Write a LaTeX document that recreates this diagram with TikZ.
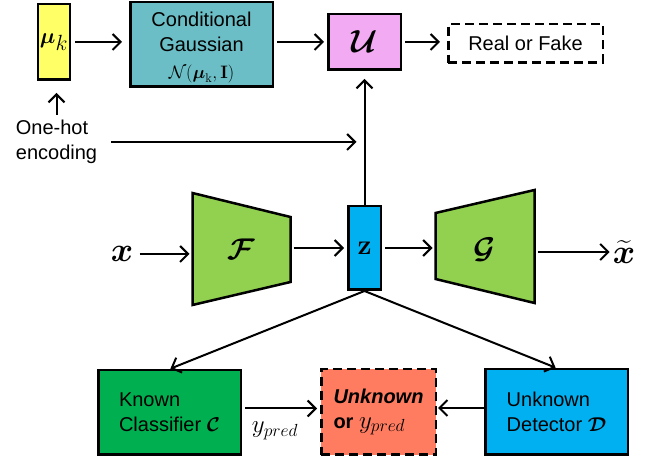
\RequirePackage{fix-cm}
\documentclass[tikz,border=0pt]{standalone}
\usepackage{amsmath}
\usepackage[no-math]{fontspec}
\setmainfont{Liberation Sans}
\usetikzlibrary{arrows.meta,calc}

\definecolor{meanyellow}{RGB}{255,255,102}
\definecolor{gaussteal}{RGB}{107,190,197}
\definecolor{discpink}{RGB}{242,170,242}
\definecolor{encgreen}{RGB}{146,208,80}
\definecolor{latentblue}{RGB}{0,176,240}
\definecolor{clsgreen}{RGB}{0,176,80}
\definecolor{unksalmon}{RGB}{255,124,96}

\newcommand{\sz}[1]{\fontsize{#1}{#1}\selectfont}
\newcommand{\ypred}{{\sz{25}$y_{pred}$}}

\tikzset{
  blk/.style={draw, line width=2.5pt, inner sep=2pt, align=center},
  dashblk/.style={blk, dash pattern=on 9pt off 5pt},
  trap/.style={draw, line width=2.5pt, line join=miter},
  arr/.style={-{Straight Barb[length=8pt,width=16pt]}, line width=2pt, shorten <=3pt, shorten >=3pt},
}

\begin{document}
\begin{tikzpicture}[x=1pt, y=-1pt, font=\fontsize{20}{25}\selectfont]
          \useasboundingbox (0,0) rectangle (657,457);

          \node[blk, fill=meanyellow, minimum width=31.5pt, minimum height=75.5pt, font=\sz{22}] (mu) at (54,42) {$\boldsymbol{\mu}_{\textstyle k}$};
          \node[blk, fill=gaussteal, minimum width=142.5pt, minimum height=84.5pt] (gauss) at (201.5,44.5)
            {\rule{0pt}{21pt}Conditional\\Gaussian\\[2pt]{\sz{18}$\mathcal{N}(\boldsymbol{\mu}_{\mathrm{k}},\mathbf{I})$}};
          \node[blk, fill=discpink, minimum width=72.5pt, minimum height=55.5pt, font=\sz{32}] (U) at (364.5,42) {$\boldsymbol{\mathcal{U}}$};
          \node[dashblk, minimum width=154.5pt, minimum height=38.5pt] (rf) at (525.5,43.5) {Real or Fake};
          \node[align=left, inner sep=3pt] (onehot) at (56.5,142) {One-hot\\encoding};

          \node[font=\sz{34}] (x) at (122,254) {$\boldsymbol{x}$};
          \draw[trap, fill=encgreen] (192.5,193) coordinate (F-nw) -- (290.5,217) coordinate (F-ne)
            -- (290.5,282) -- (192.5,305) -- cycle;
          \node[font=\sz{30}] (F) at (241,249) {$\boldsymbol{\mathcal{F}}$};
          \node[blk, fill=latentblue, minimum width=32.5pt, minimum height=83.5pt, font=\sz{28}] (z) at (364.5,248) {$\mathbf{z}$};
          \draw[trap, fill=encgreen] (435.5,213) coordinate (G-nw) -- (534.5,190) coordinate (G-ne)
            -- (534.5,303) -- (435.5,279) -- cycle;
          \node[font=\sz{30}] (G) at (485,250) {$\boldsymbol{\mathcal{G}}$};
          \node[font=\sz{34}, inner sep=1pt] (xt) at (624,252) {$\widetilde{\boldsymbol{x}}$};

          \node[blk, align=left, fill=clsgreen, minimum width=142.5pt, minimum height=84.5pt] (C) at (169.5,412.5)
            {Known\\Classifier $\boldsymbol{\mathcal{C}}$};
          \node[dashblk, align=left, fill=unksalmon, minimum width=114.5pt, minimum height=85.5pt] (unk) at (378.5,412)
            {\textbf{\textit{Unknown}}\\\textbf{or} \ypred};
          \node[blk, align=left, fill=latentblue, minimum width=142.5pt, minimum height=85.5pt] (D) at (556.5,412)
            {Unknown\\Detector $\boldsymbol{\mathcal{D}}$};
          \node (ylab) at (275,431) {\ypred};

          \draw[arr, shorten <=4pt, shorten >=7pt] (mu.east) -- (mu.east -| gauss.west);
          \draw[arr] (gauss.east |- U) -- (U.west);
          \draw[arr, shorten >=7pt] (U.east) -- (U.east -| rf.west);
          \draw[arr, shorten <=2pt, shorten >=12pt] (onehot.north) -- (onehot.north |- mu.south);
          \draw[arr, shorten <=11pt, shorten >=8pt] (onehot.east) -- (onehot.east -| z.north);
          \draw[arr, shorten <=0pt, shorten >=8pt] (z.north) -- (U.south);

          \draw[arr] (x.east) -- (x.east -| F-nw);
          \draw[arr] (F-ne |- z) -- (z.west);
          \draw[arr] (z.east) -- (z -| G-nw);
          \draw[arr, shorten >=2pt] (G-ne |- xt) -- (xt.west);

          \draw[arr, shorten <=0pt, shorten >=1pt] (z.south) -- (C.north);
          \draw[arr, shorten <=0pt, shorten >=1pt] (z.south) -- (D.north);
          \draw[arr] ([yshift=4pt]C.east) -- ([yshift=4pt]C.east -| unk.west);
          \draw[arr, shorten <=0pt, shorten >=1pt] ([yshift=4pt]D.west) -- ([yshift=4pt]D.west -| unk.east);
\end{tikzpicture}
\end{document}
